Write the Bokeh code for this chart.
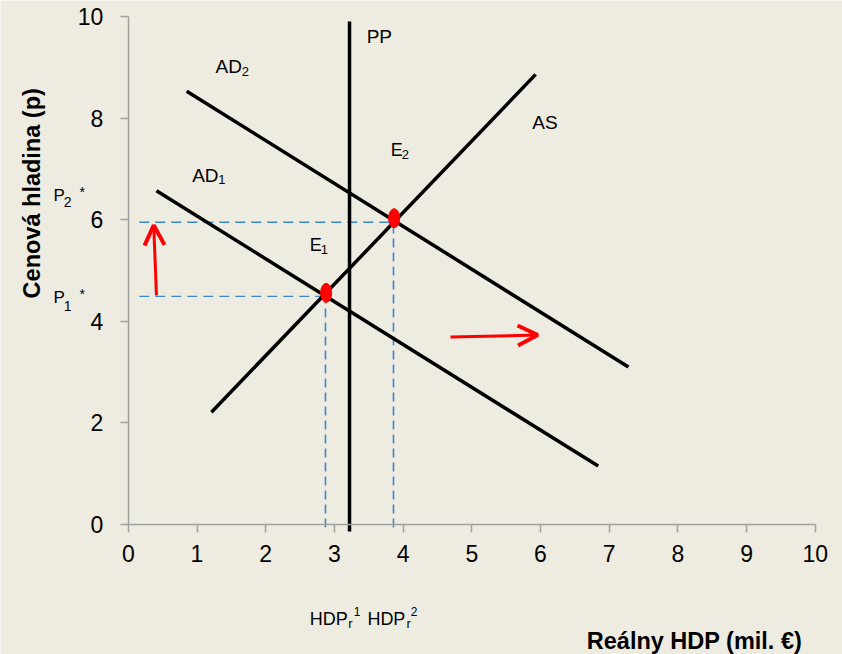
from bokeh.plotting import figure
from bokeh.models import Range1d, Label, Arrow, OpenHead, FixedTicker
from bokeh.embed import file_html
from bokeh.resources import INLINE

# ---- data ----
ad1_x = [0.41, 6.84]
ad1_y = [6.57, 1.15]
ad2_x = [0.85, 7.28]
ad2_y = [8.53, 3.10]
as_x = [1.21, 5.93]
as_y = [2.21, 8.86]
pp_x = [3.22, 3.22]
pp_y = [-0.14, 9.90]

p_star = [4.49, 5.95]        # P1*, P2*
hdp_r = [2.87, 3.86]         # HDPr1, HDPr2
dash_x0 = 0.16
e_x = [2.88, 3.87]           # E1, E2
e_y = [4.56, 6.03]

price_arrow = [0.41, 4.51, 0.37, 5.89]   # x0, y0, x1, y1
demand_arrow = [4.69, 3.69, 5.96, 3.73]

x_ticks = [0, 1, 2, 3, 4, 5, 6, 7, 8, 9, 10]
y_ticks = [0, 2, 4, 6, 8, 10]

BG = "#EEECE1"
AXC = "#A0A0A0"
FONT = "Liberation Sans"
BLUE = "#3A88CC"

W, H = 842, 654
SX, SY = 68.7, 50.8        # px per unit
OX, OY = 127.8, 524.0      # canvas px of data origin
LIFT = 7.0 / SY            # baseline correction for labels

p = figure(width=W, height=H, output_backend="svg", toolbar_location=None,
           x_range=Range1d(-OX / SX, (W - OX) / SX),
           y_range=Range1d((OY - H) / SY, OY / SY),
           min_border=0)
p.background_fill_color = BG
p.border_fill_color = BG
p.outline_line_color = None
p.grid.visible = False

for ax, ticks, standoff in ((p.xaxis[0], x_ticks, 12), (p.yaxis[0], y_ticks, 17)):
    ax.fixed_location = 0
    ax.bounds = (0, 10)
    ax.ticker = FixedTicker(ticks=ticks)
    ax.axis_line_color = AXC
    ax.axis_line_width = 1.5
    ax.major_tick_line_color = AXC
    ax.major_tick_line_width = 1.5
    ax.major_tick_out = 8
    ax.major_tick_in = 0
    ax.minor_tick_line_color = None
    ax.major_label_text_font = FONT
    ax.major_label_text_font_size = "23px"
    ax.major_label_text_color = "black"
    ax.major_label_standoff = standoff

# dashed guide lines
for px_, py_ in zip(hdp_r, p_star):
    p.line([dash_x0, px_], [py_, py_], line_color=BLUE, line_width=1.4, line_dash="10 6")
    p.line([px_, px_], [-0.06, py_], line_color=BLUE, line_width=1.6, line_dash="9 5")

# curves
for xs, ys in ((ad1_x, ad1_y), (ad2_x, ad2_y), (as_x, as_y), (pp_x, pp_y)):
    p.line(xs, ys, line_color="black", line_width=3.5)

# equilibria
p.ellipse(x=e_x, y=e_y, width=11, height=19, width_units="screen", height_units="screen",
          fill_color="#FF0000", line_color="#FF0000")

# arrows
for a in (price_arrow, demand_arrow):
    p.add_layout(Arrow(end=OpenHead(line_color="#FF0000", line_width=4, size=20),
                       x_start=a[0], y_start=a[1], x_end=a[2], y_end=a[3],
                       line_color="#FF0000", line_width=3))

def lab(x, y, t, size, lift=True, **kw):
    p.add_layout(Label(x=x, y=y + (LIFT if lift else 0), text=t, text_font=FONT,
                       text_font_size=size, text_color="black",
                       text_baseline=kw.pop("baseline", "alphabetic"),
                       text_align=kw.pop("align", "left"), **kw))

# curve labels
lab(1.27, 8.88, "AD", "19px"); lab(1.65, 8.78, "2", "13px")
lab(0.93, 6.73, "AD", "19px"); lab(1.31, 6.65, "1", "13px")
lab(3.47, 9.47, "PP", "19px")
lab(5.88, 7.78, "AS", "19px")
lab(3.82, 7.24, "E", "18px"); lab(3.98, 7.15, "2", "13px")
lab(2.64, 5.37, "E", "18px"); lab(2.80, 5.28, "1", "13px")

# price labels
lab(-1.09, 6.34, "P", "17px"); lab(-0.94, 6.22, "2", "14px"); lab(-0.71, 6.40, "*", "14px")
lab(-1.09, 4.33, "P", "17px"); lab(-0.94, 4.17, "1", "14px"); lab(-0.71, 4.39, "*", "14px")

# HDP labels
lab(2.64, -1.99, "HDP", "18px"); lab(3.20, -2.09, "r", "13px"); lab(3.28, -1.85, "1", "12px")
lab(3.48, -1.99, "HDP", "18px"); lab(4.05, -2.09, "r", "13px"); lab(4.11, -1.85, "2", "12px")

# axis titles
lab(9.81, -2.44, "Reálny HDP (mil. €)", "23.5px", align="right", text_font_style="bold")
lab(-1.40, 6.52, "Cenová hladina (p)", "23.5px", lift=False, align="center", baseline="middle",
    angle=1.5708, text_font_style="bold")

open("out.html", "w").write(file_html(p, INLINE))
